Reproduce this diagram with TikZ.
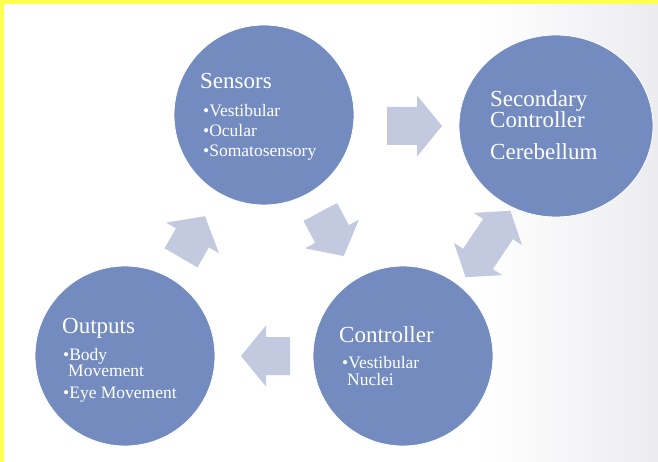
\documentclass[tikz,border=0pt]{standalone}
\usepackage{fontspec}
\setmainfont{Liberation Serif}
\usetikzlibrary{shapes.geometric,calc}

\definecolor{circblue}{RGB}{115,139,191}
\definecolor{arrowfill}{RGB}{195,202,223}
\definecolor{frameyellow}{RGB}{255,255,80}
\definecolor{bgright}{RGB}{236,236,240}

\tikzset{
  stage/.style={circle, minimum size=180pt, inner sep=0pt, fill=circblue, draw=white, line width=0.8pt},
  title/.style={anchor=base west, inner sep=0pt, text=white, font=\fontsize{23}{26}\selectfont},
  item/.style={anchor=base west, inner sep=0pt, text=white, font=\fontsize{17.5}{20}\selectfont},
}

% block arrow: name, centre, angle, length
\newcommand{\blockarrow}[4]{%
  \coordinate (#1) at #2;
  \begin{scope}[shift={(#1)}, rotate=#3]
    \fill[arrowfill] ({-#4/2},19) -- ({#4/2-25},19) -- ({#4/2-25},30.5) -- ({#4/2},0)
      -- ({#4/2-25},-30.5) -- ({#4/2-25},-19) -- ({-#4/2},-19) -- cycle;
  \end{scope}}
% double block arrow: name, centre, angle, length
\newcommand{\doubleblockarrow}[4]{%
  \coordinate (#1) at #2;
  \begin{scope}[shift={(#1)}, rotate=#3]
    \fill[arrowfill] ({-#4/2},0) -- ({-#4/2+22},29) -- ({-#4/2+22},18) -- ({#4/2-22},18)
      -- ({#4/2-22},29) -- ({#4/2},0) -- ({#4/2-22},-29) -- ({#4/2-22},-18)
      -- ({-#4/2+22},-18) -- ({-#4/2+22},-29) -- cycle;
  \end{scope}}

\begin{document}
\begin{tikzpicture}[x=1pt, y=-1pt]
  % page and frame
  \useasboundingbox (0,0) rectangle (658,462);
  \fill[white] (0,0) rectangle (658,462);
  \shade[left color=white, right color=bgright] (480,0) rectangle (658,462);
  \fill[frameyellow] (0,0) rectangle (658,4);
  \fill[frameyellow] (0,0) rectangle (4,462);

  % stages of the loop
  \node[stage] (sensors) at (264,115) {};
  \node[stage, ellipse, minimum width=194pt, minimum height=182pt] (secondary) at (556,126) {};
  \node[stage] (controller) at (403,356) {};
  \node[stage] (outputs) at (125,356) {};

  % arrows between stages
  \blockarrow{s2sec}{(414.5,126)}{0}{55}
  \blockarrow{s2c}{(332,234)}{-62}{50}
  \blockarrow{c2o}{(265.5,356)}{180}{49}
  \blockarrow{o2s}{(193,237)}{60}{48}
  \doubleblockarrow{c2sec}{(488,244)}{56}{80}

  % Sensors
  \node[title] (sensorsT) at (200,89) {Sensors};
  \node[item] (sensorsA) at (203,117) {•Vestibular};
  \node[item] (sensorsB) at (203,137) {•Ocular};
  \node[item] (sensorsC) at (203,157) {•Somatosensory};

  % Secondary controller
  \node[title] (secT1) at (490,107) {Secondary};
  \node[title] (secT2) at (490,128) {Controller};
  \node[title] (secT3) at (490,160) {Cerebellum};

  % Controller
  \node[title] (ctrlT) at (339,342) {Controller};
  \node[item] (ctrlA) at (342,368) {•Vestibular};
  \node[item] (ctrlB) at (347,385) {Nuclei};

  % Outputs
  \node[title] (outT) at (62,333) {Outputs};
  \node[item] (outA) at (63,360) {•Body};
  \node[item] (outB) at (68,376) {Movement};
  \node[item] (outC) at (63,398) {•Eye Movement};
\end{tikzpicture}
\end{document}
